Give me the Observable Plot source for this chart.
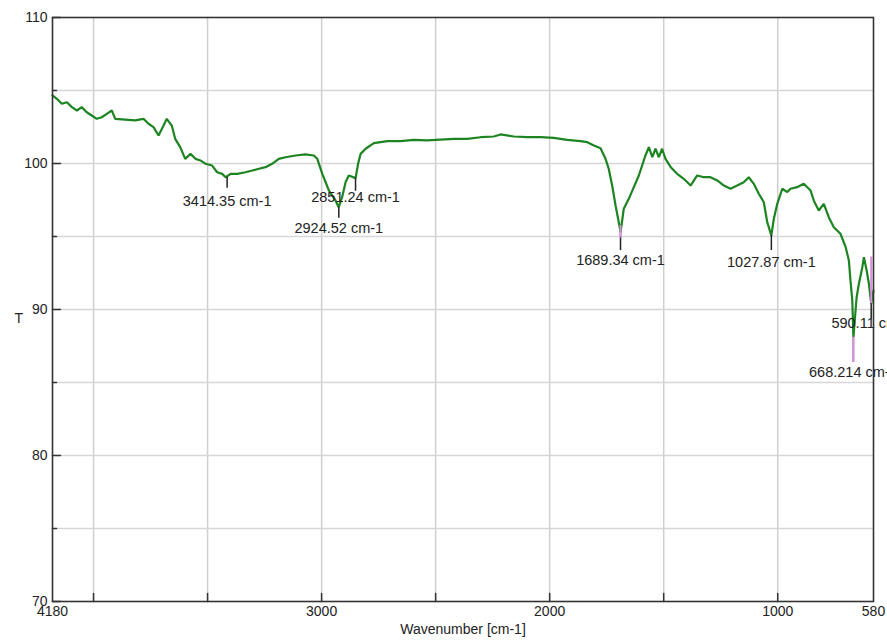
<!DOCTYPE html>
<html>
<head>
<meta charset="utf-8">
<script src="https://cdn.jsdelivr.net/npm/d3@7"></script>
<script src="https://cdn.jsdelivr.net/npm/@observablehq/plot@0.6"></script>
<style>
  body { margin: 0; background: #fff; }
  #chart { width: 887px; height: 644px; overflow: hidden; }
</style>
</head>
<body>
<div id="chart"></div>
<script>
// FTIR spectrum (wavenumber in cm-1, transmittance T)
const wavenumber = [
  4180, 4161, 4139, 4117, 4095, 4073, 4052, 4030, 4008, 3986, 3964, 3942, 3920, 3905,
  3861, 3817, 3781, 3759, 3737, 3715, 3693, 3679, 3657, 3642, 3620, 3598, 3575, 3553,
  3531, 3509, 3480, 3458, 3436, 3421, 3399, 3370, 3334, 3304, 3275, 3246, 3217, 3188,
  3158, 3114, 3071, 3034, 3019, 2997, 2968, 2939, 2925, 2910, 2895, 2881, 2851, 2840,
  2829, 2807, 2771, 2712, 2654, 2596, 2537, 2479, 2420, 2362, 2303, 2245, 2216, 2157,
  2098, 2040, 1982, 1923, 1865, 1835, 1806, 1777, 1755, 1741, 1726, 1711, 1697, 1689,
  1675, 1653, 1631, 1609, 1580, 1565, 1550, 1536, 1521, 1507, 1492, 1469, 1441, 1412,
  1382, 1353, 1324, 1295, 1265, 1236, 1207, 1178, 1149, 1127, 1105, 1083, 1061, 1046,
  1028, 1017, 1002, 980, 958, 944, 915, 886, 856, 842, 820, 798, 776, 754, 725, 702,
  688, 681, 673, 668, 654, 644, 629, 622, 610, 600, 590, 580
];
const transmittance = [
  104.66, 104.43, 104.09, 104.20, 103.86, 103.63, 103.86, 103.51, 103.29, 103.06, 103.17, 103.40, 103.63, 103.06,
  103.01, 102.95, 103.06, 102.72, 102.49, 101.92, 102.60, 103.06, 102.60, 101.69, 101.12, 100.32, 100.66, 100.32,
  100.21, 99.98, 99.86, 99.40, 99.29, 99.06, 99.29, 99.29, 99.40, 99.52, 99.64, 99.75, 99.98, 100.32,
  100.43, 100.55, 100.62, 100.55, 100.32, 99.29, 98.15, 97.47, 97.01, 97.69, 98.72, 99.18, 99.00, 99.98,
  100.66, 101.01, 101.39, 101.53, 101.53, 101.62, 101.58, 101.64, 101.69, 101.69, 101.80, 101.85, 101.99, 101.85,
  101.80, 101.80, 101.76, 101.62, 101.53, 101.46, 101.23, 101.05, 100.32, 99.64, 98.49, 97.12, 95.98, 95.30,
  96.90, 97.58, 98.38, 99.18, 100.55, 101.12, 100.43, 101.01, 100.43, 101.01, 100.32, 99.75, 99.29, 98.95,
  98.49, 99.18, 99.06, 99.06, 98.84, 98.49, 98.27, 98.49, 98.72, 99.06, 98.61, 97.93, 97.35, 95.98,
  95.07, 96.21, 97.24, 98.27, 98.04, 98.27, 98.38, 98.61, 98.15, 97.47, 96.78, 97.24, 96.32, 95.64, 95.19, 94.27,
  93.36, 91.99, 90.62, 88.10, 90.84, 91.76, 92.90, 93.58, 92.67, 91.76, 90.39, 91.30
];

// Peak annotations
const peakWavenumber = [3414.35, 2924.52, 2851.24, 1689.34, 1027.87, 668.214, 590.11];
const peakLabels = ["3414.35 cm-1", "2924.52 cm-1", "2851.24 cm-1", "1689.34 cm-1", "1027.87 cm-1", "668.214 cm-1", "590.11 cm-1"];
const peakT = [99.06, 97.0, 99.0, 95.3, 95.07, 88.1, 90.39];
const markerEndT = [98.3, 96.25, 98.1, 94.04, 94.04, 86.37, 89.35];
const labelT = [97.4, 95.55, 97.67, 93.36, 93.22, 85.69, 89.04];
const highlightWavenumber = [1689.34, 668.214, 590.11];
const highlightFromT = [95.75, 88.1, 93.6];
const highlightToT = [94.9, 86.37, 90.4];

// Axes
const xDomain = [4180, 580];
const yDomain = [70, 110];
const xTickLabels = [4180, 3000, 2000, 1000, 580];
const xTicks = [4000, 3500, 3000, 2500, 2000, 1500, 1000];
const yTickLabels = [110, 100, 90, 80, 70];
const yMinorTicks = [105, 95, 85, 75];
const yGrid = [75, 80, 85, 90, 95, 100, 105];

const spectrum = wavenumber.map((w, i) => ({w, T: transmittance[i]}));
const peaks = peakWavenumber.map((w, i) => ({w, label: peakLabels[i], top: peakT[i], end: markerEndT[i], ly: labelT[i]}));
const highlights = highlightWavenumber.map((w, i) => ({w, a: highlightFromT[i], b: highlightToT[i]}));

const tickShape = {draw(ctx, l) { ctx.moveTo(0, 0); ctx.lineTo(0, -l); }};
const axisColor = "#333";

const chart = Plot.plot({
  width: 887,
  height: 644,
  marginTop: 17,
  marginBottom: 43,
  marginLeft: 52,
  marginRight: 14,
  style: {fontFamily: "'Liberation Sans', Arial, sans-serif", fontSize: "14px", color: "#222", background: "#fff", overflow: "visible"},
  x: {domain: xDomain},
  y: {domain: yDomain},
  marks: [
    Plot.gridX(xTicks, {stroke: "#cfcfcf", strokeOpacity: 1, strokeWidth: 1.5}),
    Plot.gridY(yGrid, {stroke: "#d6d6d6", strokeOpacity: 1, strokeWidth: 1.5}),
    Plot.line(spectrum, {x: "w", y: "T", stroke: "#1c8420", strokeWidth: 2.2, strokeLinejoin: "miter"}),
    Plot.ruleX(peaks, {x: "w", y1: "top", y2: "end", stroke: "#222", strokeWidth: 1.5}),
    Plot.ruleX(highlights, {x: "w", y1: "a", y2: "b", stroke: "#dc8ee0", strokeWidth: 2}),
    Plot.text(peaks, {x: "w", y: "ly", text: "label", fontSize: 14.5, fill: "#222", textAnchor: "middle"}),
    Plot.frame({stroke: axisColor, strokeWidth: 1.6}),
    Plot.vector(xTicks, {x: d => d, y: () => yDomain[0], length: 8, anchor: "start", shape: tickShape, stroke: axisColor, strokeWidth: 1.5}),
    Plot.vector(yTickLabels, {x: () => xDomain[0], y: d => d, length: 8, rotate: 90, anchor: "start", shape: tickShape, stroke: axisColor, strokeWidth: 1.5}),
    Plot.vector(yMinorTicks, {x: () => xDomain[0], y: d => d, length: 4, rotate: 90, anchor: "start", shape: tickShape, stroke: axisColor, strokeWidth: 1.5}),
    Plot.axisX(xTickLabels, {tickSize: 0, tickPadding: 5, tickFormat: d => String(d), label: "Wavenumber [cm-1]", labelAnchor: "center", labelArrow: "none", labelOffset: 32}),
    Plot.axisY(yTickLabels, {tickSize: 0, tickPadding: 5, tickFormat: d => String(d), label: null}),
    Plot.text(["T"], {frameAnchor: "left", dx: -38, dy: 9, text: d => d, fontSize: 14, fill: "#222"})
  ]
});
document.getElementById("chart").append(chart);
</script>
</body>
</html>
